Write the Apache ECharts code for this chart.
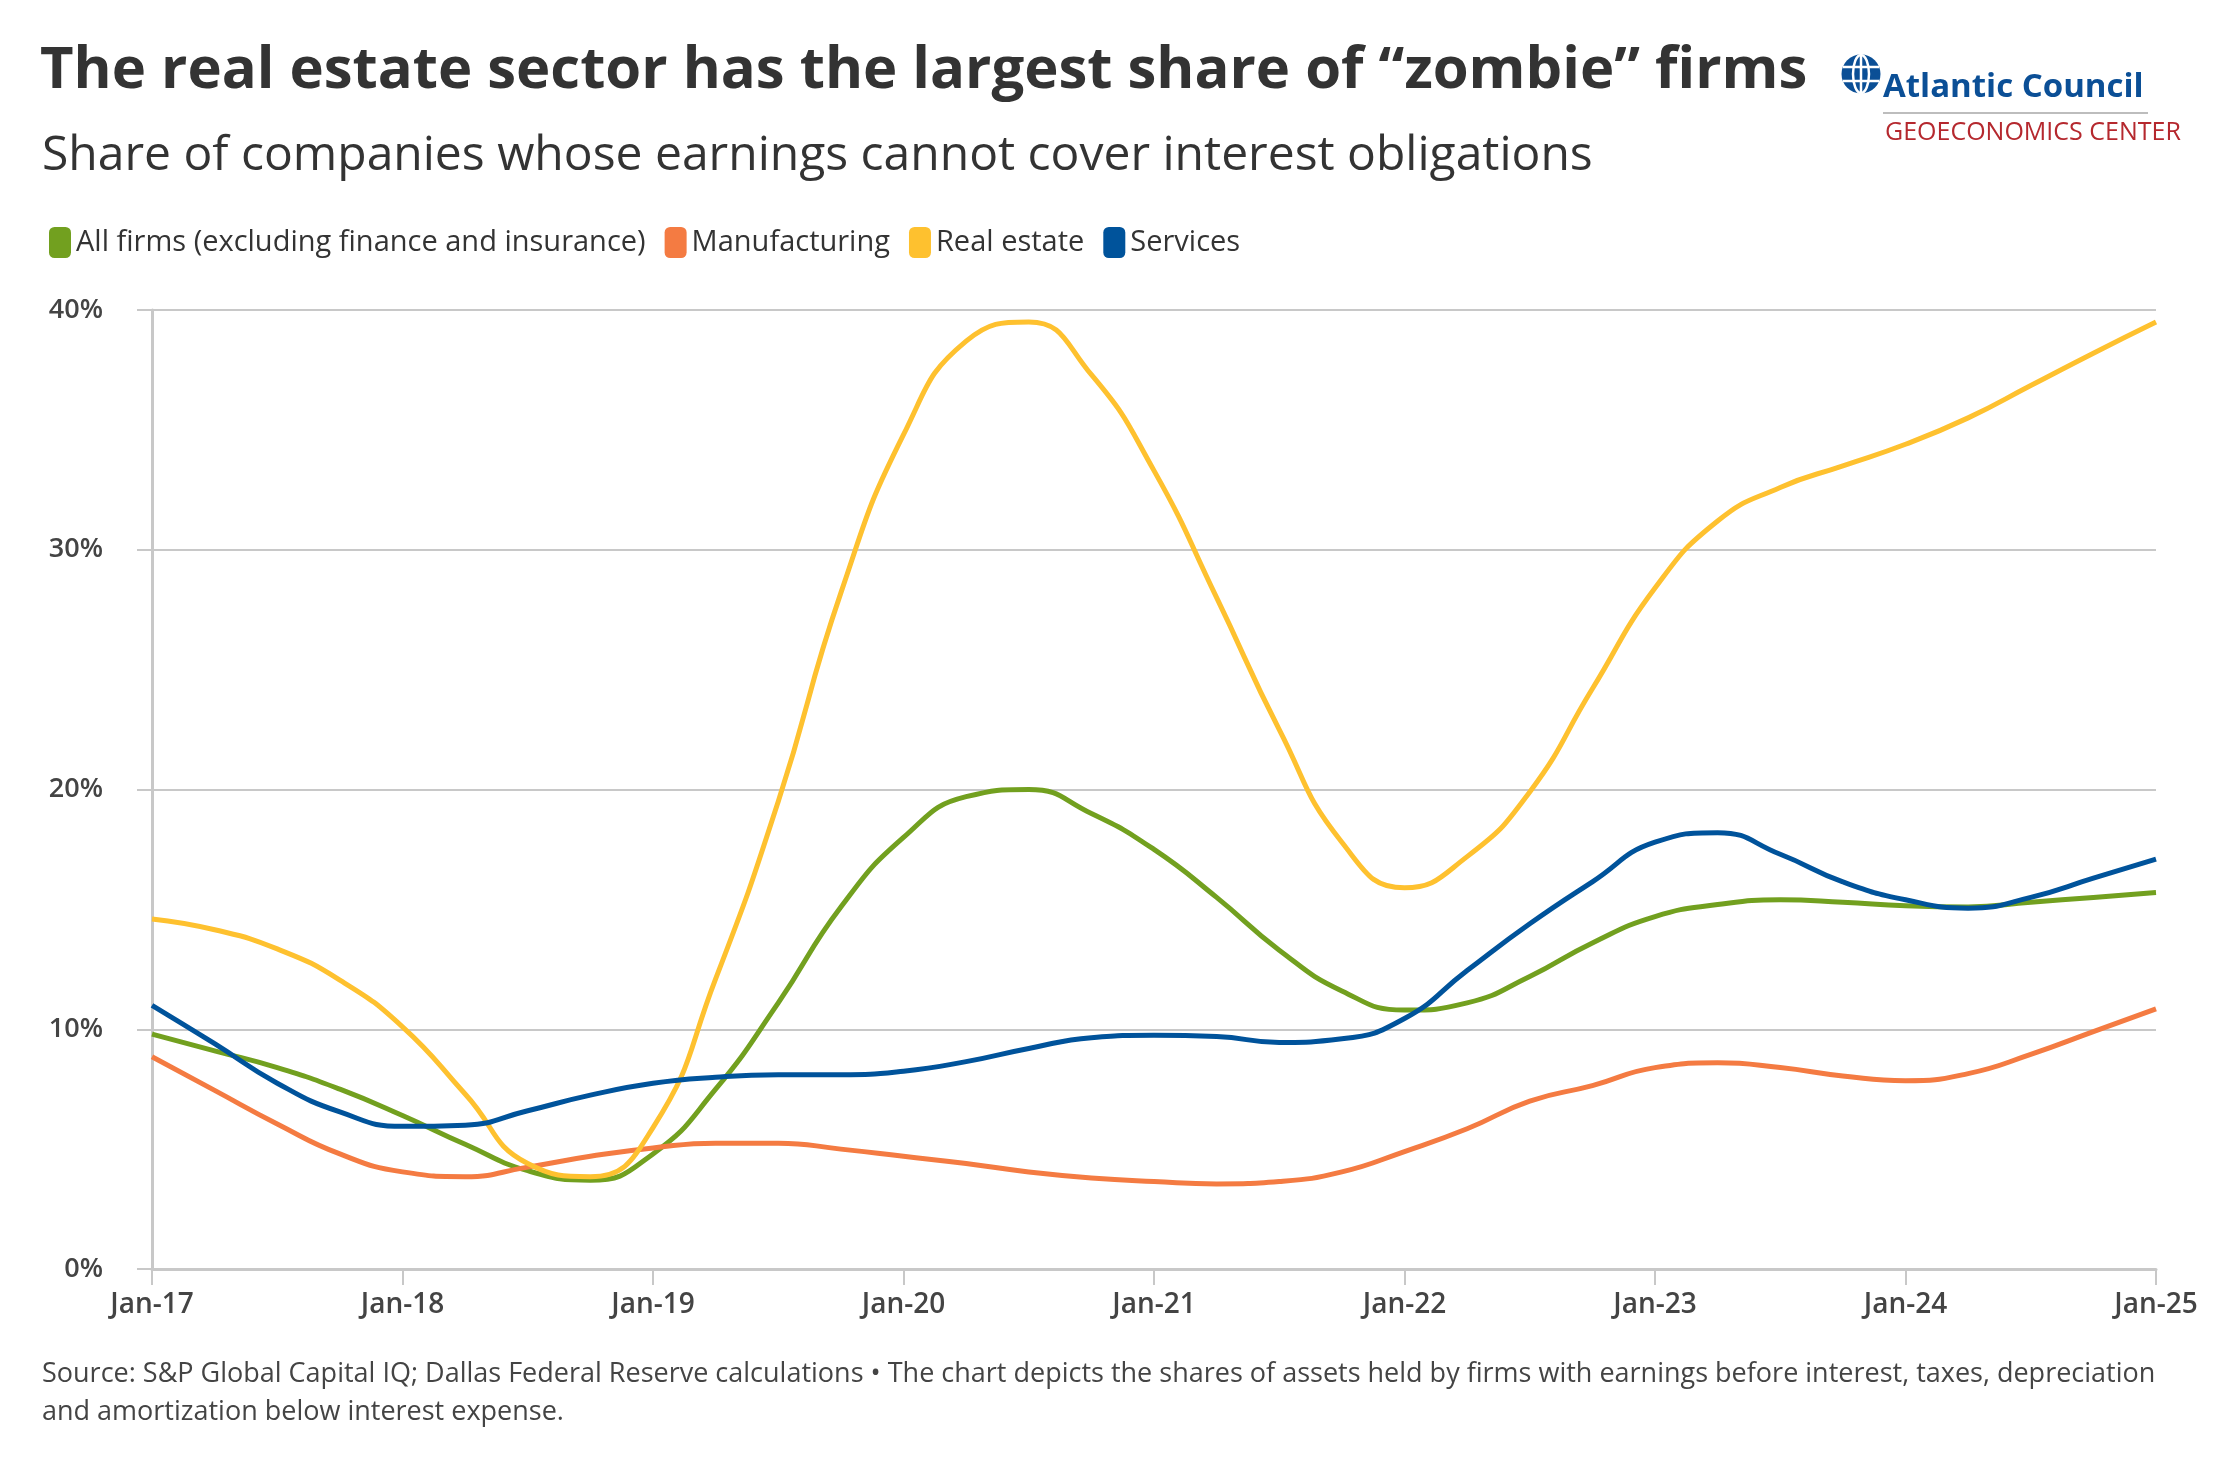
<!DOCTYPE html>
<html>
<head>
<meta charset="utf-8">
<title>Zombie firms</title>
<script src="https://cdn.jsdelivr.net/npm/echarts@6/dist/echarts.min.js"></script>
<style>
    html, body { margin: 0; padding: 0; background: #fff; }
    #chart { width: 2216px; height: 1458px; }
</style>
</head>
<body>
<div id="chart"></div>
<script>
// quarterly points, Jan-17 .. Jan-25
var quarters = [
    'Jan-17', 'Apr-17', 'Jul-17', 'Oct-17',
    'Jan-18', 'Apr-18', 'Jul-18', 'Oct-18',
    'Jan-19', 'Apr-19', 'Jul-19', 'Oct-19',
    'Jan-20', 'Apr-20', 'Jul-20', 'Oct-20',
    'Jan-21', 'Apr-21', 'Jul-21', 'Oct-21',
    'Jan-22', 'Apr-22', 'Jul-22', 'Oct-22',
    'Jan-23', 'Apr-23', 'Jul-23', 'Oct-23',
    'Jan-24', 'Apr-24', 'Jul-24', 'Oct-24',
    'Jan-25'
];

var allFirms = [
    9.8, 9.1, 8.4, 7.5,
    6.4, 5.2, 4.1, 3.7,
    4.8, 7.5, 11.1, 15.1,
    18.0, 19.7, 20.0, 19.0,
    17.5, 15.5, 13.3, 11.6,
    10.8, 11.1, 12.2, 13.6,
    14.7, 15.2, 15.4, 15.3,
    15.15, 15.1, 15.3, 15.5,
    15.7
];

var manufacturing = [
    8.85, 7.45, 6.05, 4.8,
    4.05, 3.85, 4.25, 4.7,
    5.05, 5.25, 5.25, 5.0,
    4.7, 4.4, 4.05, 3.8,
    3.65, 3.55, 3.65, 4.05,
    4.9, 5.85, 7.0, 7.65,
    8.4, 8.6, 8.4, 8.05,
    7.85, 8.15, 8.95, 9.9,
    10.85
];

var realEstate = [
    14.6, 14.15, 13.35, 12.05,
    10.1, 7.3, 4.4, 3.85,
    5.9, 12.1, 19.5, 28.2,
    34.8, 38.7, 39.5, 37.3,
    33.3, 28.0, 22.5, 17.8,
    15.9, 17.2, 19.9, 24.2,
    28.4, 31.2, 32.6, 33.5,
    34.4, 35.5, 36.85, 38.2,
    39.5
];

var services = [
    11.0, 9.4, 7.75, 6.55,
    5.95, 6.0, 6.6, 7.25,
    7.75, 8.0, 8.1, 8.1,
    8.25, 8.65, 9.2, 9.65,
    9.75, 9.7, 9.45, 9.6,
    10.45, 12.45, 14.4, 16.15,
    17.8, 18.2, 17.3, 16.15,
    15.4, 15.05, 15.5, 16.3,
    17.1
];

var seriesNames = [
    'All firms (excluding finance and insurance)',
    'Manufacturing',
    'Real estate',
    'Services'
];
var seriesColors = ['#72a01f', '#f47b42', '#fec12f', '#00539b'];

var sans = "'Open Sans', sans-serif";

function lineSeries(name, color, data) {
    return {
        name: name,
        type: 'line',
        data: data,
        smooth: true,
        symbol: 'none',
        lineStyle: { color: color, width: 5 },
        itemStyle: { color: color }
    };
}

var chart = echarts.init(document.getElementById('chart'), null, { renderer: 'canvas' });

chart.setOption({
    animation: false,
    backgroundColor: '#ffffff',
    color: seriesColors,
    grid: { left: 152, right: 60, top: 310, bottom: 189 },
    legend: {
        left: 44,
        top: 222,
        icon: 'roundRect',
        itemWidth: 22,
        itemHeight: 31,
        itemGap: 19,
        textStyle: { fontFamily: sans, fontSize: 29, color: '#333' },
        data: seriesNames
    },
    xAxis: {
        type: 'category',
        boundaryGap: false,
        data: quarters,
        axisLine: { lineStyle: { color: '#c8c8c8', width: 3 } },
        axisTick: { interval: 3, length: 16, lineStyle: { color: '#c8c8c8', width: 2 } },
        axisLabel: {
            interval: 3,
            margin: 22,
            fontFamily: sans,
            fontWeight: 600,
            fontSize: 28,
            color: '#444'
        },
        splitLine: { show: false }
    },
    yAxis: {
        type: 'value',
        min: 0,
        max: 40,
        interval: 10,
        axisLine: { show: true, lineStyle: { color: '#c8c8c8', width: 3 } },
        axisTick: { show: true, length: 15, lineStyle: { color: '#c8c8c8', width: 2 } },
        axisLabel: {
            margin: 49,
            formatter: '{value}%',
            fontFamily: sans,
            fontWeight: 600,
            fontSize: 27,
            color: '#444'
        },
        splitLine: { lineStyle: { color: '#c8c8c8', width: 2 } }
    },
    series: [
        lineSeries(seriesNames[0], seriesColors[0], allFirms),
        lineSeries(seriesNames[1], seriesColors[1], manufacturing),
        lineSeries(seriesNames[2], seriesColors[2], realEstate),
        lineSeries(seriesNames[3], seriesColors[3], services)
    ],
    graphic: [
        {
            type: 'text', x: 40, y: 71,
            style: {
                text: 'The real estate sector has the largest share of \u201czombie\u201d firms',
                font: "bold 58px 'Open Sans'", fill: '#333', verticalAlign: 'middle'
            }
        },
        {
            type: 'text', x: 42, y: 156,
            style: {
                text: 'Share of companies whose earnings cannot cover interest obligations',
                font: "48px 'Open Sans'", fill: '#333', verticalAlign: 'middle'
            }
        },
        {
            type: 'text', x: 42, y: 1374,
            style: {
                text: 'Source: S&P Global Capital IQ; Dallas Federal Reserve calculations \u2022 The chart depicts the shares of assets held by firms with earnings before interest, taxes, depreciation',
                font: "27px 'Open Sans'", fill: '#444', verticalAlign: 'middle'
            }
        },
        {
            type: 'text', x: 42, y: 1412,
            style: {
                text: 'and amortization below interest expense.',
                font: "27px 'Open Sans'", fill: '#444', verticalAlign: 'middle'
            }
        },
        // logo
        {
            type: 'group', x: 1861, y: 74,
            children: [
                { type: 'circle', shape: { cx: 0, cy: 0, r: 19.5 }, style: { fill: '#0b4f96' } },
                { type: 'ellipse', shape: { cx: 0, cy: 0, rx: 8, ry: 19 }, style: { fill: 'none', stroke: '#fff', lineWidth: 2.5 } },
                { type: 'line', shape: { x1: -18, y1: -7, x2: 18, y2: -7 }, style: { stroke: '#fff', lineWidth: 2.5 } },
                { type: 'line', shape: { x1: -18, y1: 7, x2: 18, y2: 7 }, style: { stroke: '#fff', lineWidth: 2.5 } },
                { type: 'line', shape: { x1: 0, y1: -19, x2: 0, y2: 19 }, style: { stroke: '#fff', lineWidth: 2.5 } }
            ]
        },
        {
            type: 'text', x: 1883, y: 88,
            style: {
                text: 'Atlantic Council',
                font: "bold 33px 'Open Sans'", fill: '#0b4f96', verticalAlign: 'middle'
            }
        },
        {
            type: 'rect', shape: { x: 1883, y: 112, width: 265, height: 2 },
            style: { fill: '#bdbdbd' }
        },
        {
            type: 'text', x: 1885, y: 133,
            style: {
                text: 'GEOECONOMICS CENTER',
                font: "25px 'Open Sans'", fill: '#b5282e', verticalAlign: 'middle'
            }
        }
    ]
});
</script>
</body>
</html>
